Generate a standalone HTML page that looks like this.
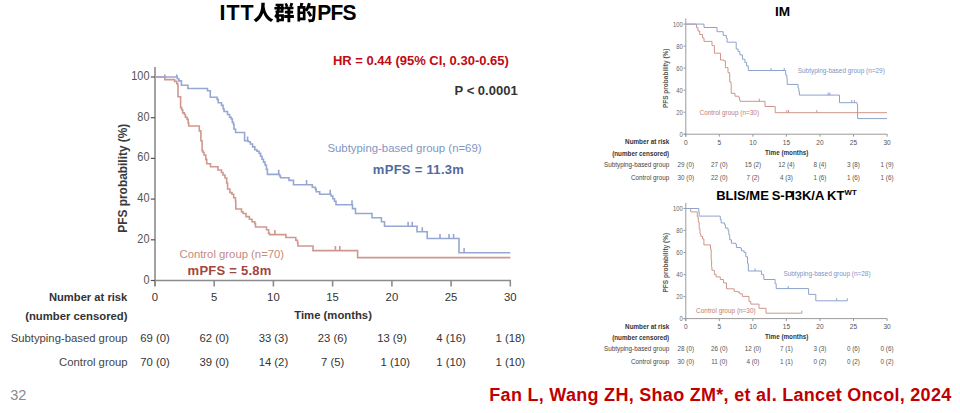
<!DOCTYPE html>
<html><head><meta charset="utf-8"><style>
html,body{margin:0;padding:0;background:#fff;}
body{width:960px;height:413px;overflow:hidden;position:relative;}
svg{position:absolute;left:0;top:0;}
text{font-family:"Liberation Sans",sans-serif;}
.b{font-weight:bold;}
</style></head><body>
<svg width="960" height="413" viewBox="0 0 960 413">

<g fill="#000">
<text transform="translate(0,19.8) scale(1,1.06)" x="219.6" y="0" class="b" font-size="21.4" letter-spacing="1.0">ITT</text>
<path transform="translate(253.10,20.30) scale(0.02050,-0.02050)" d="M401 855C396 675 422 248 20 25C69 -8 116 -55 142 -94C333 24 438 189 495 353C556 190 668 14 878 -87C899 -46 940 4 985 39C639 193 576 546 561 688C566 752 568 809 569 855Z"/>
<path transform="translate(273.90,20.30) scale(0.02050,-0.02050)" d="M806 856C796 803 773 732 754 685L838 664H639L699 686C690 732 664 799 634 849L518 809C542 765 562 708 572 664H523V533H661V467H535V335H661V253H502V117H661V-94H801V117H975V253H801V335H936V467H801V533H956V664H878C899 707 923 765 947 825ZM336 526V484H277L282 526ZM83 811V690H160L158 646H25V526H148L142 484H78V363H113C91 298 60 243 15 200C43 175 92 116 108 88L127 109V-95H258V-50H490V301H234C241 321 247 342 252 363H470V526H512V646H470V811ZM336 646H293L296 690H336ZM258 177H349V74H258Z"/>
<path transform="translate(296.10,20.30) scale(0.02050,-0.02050)" d="M527 397C572 323 632 225 658 164L781 239C751 298 686 393 641 461ZM578 852C552 748 509 640 459 559V692H311C327 734 344 784 361 833L202 855C199 806 190 743 180 692H66V-64H197V7H459V483C489 462 523 438 541 421C570 462 599 513 626 570H816C808 240 796 93 767 62C754 48 743 44 723 44C696 44 636 44 572 50C598 10 618 -52 620 -91C680 -93 742 -94 782 -87C826 -79 857 -67 888 -23C930 32 940 194 952 639C953 656 953 702 953 702H680C694 741 707 780 718 819ZM197 566H328V431H197ZM197 134V306H328V134Z"/>
<text transform="translate(0,19.8) scale(1,1.06)" x="317.2" y="0" class="b" font-size="21" letter-spacing="-0.8">PFS</text>
</g>
<g stroke="#8c8c8c" stroke-width="1.6" fill="none">
<path d="M155 67 V286 M154.2 280.5 H511"/>
<path d="M155.0 280.5 V286.5"/>
<path d="M214.2 280.5 V286.5"/>
<path d="M273.4 280.5 V286.5"/>
<path d="M332.6 280.5 V286.5"/>
<path d="M391.9 280.5 V286.5"/>
<path d="M451.1 280.5 V286.5"/>
<path d="M510.3 280.5 V286.5"/>
</g>
<g stroke="#555" stroke-width="1.2" fill="none">
<path d="M150.8 280.5 H155"/>
<path d="M150.8 239.8 H155"/>
<path d="M150.8 199.1 H155"/>
<path d="M150.8 158.4 H155"/>
<path d="M150.8 117.7 H155"/>
<path d="M150.8 77.0 H155"/>
</g>
<g fill="#555" font-size="12" text-anchor="end">
<text transform="translate(149.5,283.5) scale(0.91,1)">0</text>
<text transform="translate(149.5,242.8) scale(0.91,1)">20</text>
<text transform="translate(149.5,202.1) scale(0.91,1)">40</text>
<text transform="translate(149.5,161.4) scale(0.91,1)">60</text>
<text transform="translate(149.5,120.7) scale(0.91,1)">80</text>
<text transform="translate(149.5,80.0) scale(0.91,1)">100</text>
</g>
<text transform="translate(126.6,178.2) rotate(-90)" text-anchor="middle" class="b" font-size="11.9" fill="#3a3a3a">PFS probability (%)</text>
<g fill="none" stroke-width="1.6">
<path stroke="#cf988f" d="M155.0 77.0 H164.8 V79.6 H174.6 V81.4 H176.8 V83.6 H177.9 V86.3 H178.0 V96.7 H180.6 V107.6 H181.7 V109.8 H182.7 V112.9 H184.4 V114.5 H185.4 V117.3 H187.1 V119.4 H188.2 V122.7 H188.7 V126.0 H199.3 V130.9 H200.7 V132.0 H200.9 V140.7 H202.0 V142.0 H202.1 V150.7 H203.0 V152.5 H204.0 V155.0 H205.8 V159.4 H206.7 V163.8 H210.5 V166.8 H218.0 V170.0 H221.5 V172.5 H223.0 V175.0 H225.0 V178.0 H226.7 V183.0 H227.6 V189.0 H230.0 V192.6 H232.0 V194.3 H233.7 V197.8 H235.5 V201.3 H235.8 V209.0 H241.5 V211.8 H243.0 V213.5 H246.0 V216.6 H249.4 V219.2 H252.0 V221.8 H254.7 V223.6 H255.5 V227.0 H266.5 V229.7 H268.6 V233.2 H269.5 V234.6 H285.9 V237.5 H295.8 V240.2 H297.5 V242.8 H297.9 V246.0 H313.0 V250.6 H357.6 V257.6 H510.3"/>
<path stroke="#cf988f" d="M164.8 77.0 v-2.6M274.9 234.6 v-4.6M335.4 250.6 v-4.6M339.8 250.6 v-4.6"/>
<path stroke="#96a8d2" d="M155.0 77.0 H177.3 V78.7 H178.8 V80.9 H181.4 V85.3 H187.9 V88.5 H207.5 V90.7 H210.3 V97.2 H217.1 V99.4 H218.2 V102.7 H221.5 V105.4 H223.1 V108.7 H224.0 V111.5 H227.5 V114.5 H229.6 V117.3 H231.2 V118.9 H232.3 V122.2 H233.4 V124.3 H234.0 V129.3 H235.6 V132.5 H244.6 V140.7 H248.2 V141.8 H250.4 V144.0 H252.6 V146.9 H254.8 V149.8 H257.0 V151.2 H259.1 V153.4 H260.6 V156.3 H262.0 V159.2 H263.5 V162.1 H265.0 V165.0 H266.4 V169.4 H267.4 V174.4 H279.6 V176.0 H280.5 V177.8 H289.0 V180.4 H293.5 V184.7 H312.3 V187.3 H315.4 V189.1 H316.2 V191.7 H319.7 V194.3 H331.0 V196.0 H332.8 V198.7 H334.5 V201.3 H336.0 V204.8 H352.5 V208.6 H355.5 V213.5 H372.0 V217.7 H381.4 V221.7 H384.5 V226.3 H417.0 V231.8 H427.2 V238.5 H459.0 V252.7 H510.3"/>
<path stroke="#96a8d2" d="M176.8 77.0 v-2.6M247.6 141.0 v-4.6M278.7 174.3 v-4.6M306.6 184.7 v-4.6M330.2 194.3 v-4.6M352.0 204.8 v-4.6M408.1 226.3 v-4.6M412.2 226.3 v-4.6M422.3 231.8 v-4.6M440.0 238.5 v-4.6M449.0 238.5 v-4.6M453.6 238.5 v-4.6M464.1 252.7 v-4.6"/>
</g>
<text x="332.9" y="65.2" class="b" font-size="13" fill="#c00a14">HR = 0.44 (95% CI, 0.30-0.65)</text>
<text x="454.6" y="94.9" class="b" font-size="13" fill="#333">P &lt; 0.0001</text>
<text x="327.4" y="151.8" font-size="11.4" fill="#8196c4">Subtyping-based group (n=69)</text>
<text x="372.8" y="173.6" class="b" font-size="13" letter-spacing="0.3" fill="#52699e">mPFS = 11.3m</text>
<text x="179.5" y="258.3" font-size="11.3" fill="#c58a81">Control group (n=70)</text>
<text x="187.6" y="274.9" class="b" font-size="13" letter-spacing="0.25" fill="#a3463d">mPFS = 5.8m</text>
<g font-size="11.3" fill="#333" text-anchor="middle">
<text x="155.0" y="301">0</text>
<text x="214.2" y="301">5</text>
<text x="273.4" y="301">10</text>
<text x="332.6" y="301">15</text>
<text x="391.9" y="301">20</text>
<text x="451.1" y="301">25</text>
<text x="510.3" y="301">30</text>
<text x="155.0" y="342.2">69 (0)</text>
<text x="214.2" y="342.2">62 (0)</text>
<text x="273.4" y="342.2">33 (3)</text>
<text x="332.6" y="342.2">23 (6)</text>
<text x="391.9" y="342.2">13 (9)</text>
<text x="451.1" y="342.2">4 (16)</text>
<text x="510.3" y="342.2">1 (18)</text>
<text x="155.0" y="365.8">70 (0)</text>
<text x="214.2" y="365.8">39 (0)</text>
<text x="273.4" y="365.8">14 (2)</text>
<text x="332.6" y="365.8">7 (5)</text>
<text x="395.3" y="365.8">1 (10)</text>
<text x="451.1" y="365.8">1 (10)</text>
<text x="510.3" y="365.8">1 (10)</text>
<text x="333.1" y="319.4" class="b">Time (months)</text>
</g>
<g font-size="11.3" fill="#333" text-anchor="end">
<text x="127.3" y="300.9" class="b" font-size="11.2">Number at risk</text>
<text x="127.5" y="319.8" class="b" font-size="11.3">(number censored)</text>
<text x="127.5" y="342.0" fill="#444">Subtyping-based group</text>
<text x="127.5" y="365.5" fill="#444">Control group</text>
</g>
<text x="10.2" y="399.9" font-size="14.6" fill="#8a8a8a">32</text>
<text x="489.3" y="400.8" class="b" font-size="18" letter-spacing="0.29" fill="#c00000">Fan L, Wang ZH, Shao ZM*, et al. Lancet Oncol, 2024</text>
<text x="775.1" y="16.0" class="b" font-size="13.6">IM</text>
<g stroke="#9a9a9a" stroke-width="1" fill="none">
<path d="M685.8 18.5 V136.7 M683.5 134.2 H887.2"/>
<path d="M685.8 134.2 V136.7"/>
<path d="M719.3 134.2 V136.7"/>
<path d="M752.9 134.2 V136.7"/>
<path d="M786.4 134.2 V136.7"/>
<path d="M820.0 134.2 V136.7"/>
<path d="M853.5 134.2 V136.7"/>
<path d="M887.1 134.2 V136.7"/>
<path d="M683.5 134.2 H685.8"/>
<path d="M683.5 112.2 H685.8"/>
<path d="M683.5 90.2 H685.8"/>
<path d="M683.5 68.1 H685.8"/>
<path d="M683.5 46.1 H685.8"/>
<path d="M683.5 24.1 H685.8"/>
</g>
<g font-size="7" fill="#666" text-anchor="end">
<text transform="translate(682.8,136.7) scale(0.84,1)">0</text>
<text transform="translate(682.8,114.7) scale(0.84,1)">20</text>
<text transform="translate(682.8,92.7) scale(0.84,1)">40</text>
<text transform="translate(682.8,70.6) scale(0.84,1)">60</text>
<text transform="translate(682.8,48.6) scale(0.84,1)">80</text>
<text transform="translate(682.8,26.6) scale(0.84,1)">100</text>
</g>
<text transform="translate(667.6,78.3) rotate(-90)" text-anchor="middle" class="b" font-size="6.5" fill="#555">PFS probability (%)</text>
<g fill="none" stroke-width="1">
<path stroke="#cf958c" d="M685.8 24.1 H696.5 V27.5 H698.0 V31.0 H699.7 V34.5 H702.5 V37.9 H704.0 V41.4 H712.0 V45.6 H714.4 V53.2 H720.5 V60.0 H723.7 V60.8 H725.4 V67.6 H728.0 V72.7 H729.7 V81.8 H731.0 V84.3 H731.2 V93.3 H735.0 V96.2 H738.5 V97.0 H739.4 V99.6 H740.0 V101.3 H765.0 V106.5 H775.2 V112.7 H887.0"/>
<path stroke="#cf958c" d="M759.3 101.3 v-2.6M786.8 112.7 v-2.6M788.5 112.7 v-2.6M816.8 112.7 v-2.6"/>
<path stroke="#8fa2cc" d="M685.8 24.1 H704.0 V27.5 H717.0 V31.7 H723.2 V35.4 H726.3 V38.0 H727.1 V42.2 H736.2 V49.0 H738.1 V51.5 H739.8 V54.9 H742.4 V59.2 H744.9 V62.5 H746.6 V65.9 H748.3 V70.5 H785.7 V75.0 H786.8 V78.3 H787.2 V84.4 H798.1 V88.1 H798.8 V91.4 H799.4 V95.1 H839.5 V102.7 H857.0 V104.4 H857.6 V118.6 H887.0"/>
<path stroke="#8fa2cc" d="M771.1 70.5 v-2.6M784.2 70.5 v-2.6M828.2 95.1 v-2.6M829.9 95.1 v-2.6M851.7 102.7 v-2.6M854.3 102.7 v-2.6"/>
</g>
<text x="797.7" y="72.9" font-size="6.45" fill="#7f93c2">Subtyping-based group (n=29)</text>
<text x="699.5" y="115.3" font-size="6.45" fill="#c07c73">Control group (n=30)</text>
<g font-size="6.3" fill="#555" text-anchor="middle">
<text x="685.8" y="144.8" font-size="6.6">0</text>
<text x="719.3" y="144.8" font-size="6.6">5</text>
<text x="752.9" y="144.8" font-size="6.6">10</text>
<text x="786.4" y="144.8" font-size="6.6">15</text>
<text x="820.0" y="144.8" font-size="6.6">20</text>
<text x="853.5" y="144.8" font-size="6.6">25</text>
<text x="887.1" y="144.8" font-size="6.6">30</text>
<text x="685.8" y="166.7">29 (0)</text>
<text x="719.3" y="166.7">27 (0)</text>
<text x="752.9" y="166.7">15 (2)</text>
<text x="786.4" y="166.7">12 (4)</text>
<text x="820.0" y="166.7">8 (4)</text>
<text x="853.5" y="166.7">3 (8)</text>
<text x="887.1" y="166.7">1 (9)</text>
<text x="685.8" y="179.7">30 (0)</text>
<text x="719.3" y="179.7">22 (0)</text>
<text x="752.9" y="179.7">7 (2)</text>
<text x="786.4" y="179.7">4 (3)</text>
<text x="820.0" y="179.7">1 (6)</text>
<text x="853.5" y="179.7">1 (6)</text>
<text x="887.1" y="179.7">1 (6)</text>
<text x="786.7" y="154.7" class="b" fill="#333">Time (months)</text>
</g>
<g font-size="6.3" fill="#444" text-anchor="end">
<text x="669.2" y="144.2" class="b" fill="#333">Number at risk</text>
<text x="669.2" y="155.5" class="b" fill="#333">(number censored)</text>
<text x="669.2" y="166.7">Subtyping-based group</text>
<text x="669.2" y="179.7">Control group</text>
</g>
<text y="199.5" class="b" font-size="13"><tspan x="716.13">BLIS/ME</tspan><tspan x="771.63">S-P</tspan><tspan x="791.13">I3K/A</tspan><tspan x="827.03">KT</tspan></text><text x="844.4" y="195.3" class="b" font-size="7.8" letter-spacing="0.2">WT</text>
<g stroke="#9a9a9a" stroke-width="1" fill="none">
<path d="M685.8 202.9 V321.1 M683.5 318.6 H887.2"/>
<path d="M685.8 318.6 V321.1"/>
<path d="M719.3 318.6 V321.1"/>
<path d="M752.9 318.6 V321.1"/>
<path d="M786.4 318.6 V321.1"/>
<path d="M820.0 318.6 V321.1"/>
<path d="M853.5 318.6 V321.1"/>
<path d="M887.1 318.6 V321.1"/>
<path d="M683.5 318.6 H685.8"/>
<path d="M683.5 296.6 H685.8"/>
<path d="M683.5 274.6 H685.8"/>
<path d="M683.5 252.5 H685.8"/>
<path d="M683.5 230.5 H685.8"/>
<path d="M683.5 208.5 H685.8"/>
</g>
<g font-size="7" fill="#666" text-anchor="end">
<text transform="translate(682.8,321.1) scale(0.84,1)">0</text>
<text transform="translate(682.8,299.1) scale(0.84,1)">20</text>
<text transform="translate(682.8,277.1) scale(0.84,1)">40</text>
<text transform="translate(682.8,255.0) scale(0.84,1)">60</text>
<text transform="translate(682.8,233.0) scale(0.84,1)">80</text>
<text transform="translate(682.8,211.0) scale(0.84,1)">100</text>
</g>
<text transform="translate(667.6,262.7) rotate(-90)" text-anchor="middle" class="b" font-size="6.5" fill="#555">PFS probability (%)</text>
<g fill="none" stroke-width="1">
<path stroke="#cf958c" d="M685.8 208.5 H690.7 V211.9 H697.3 V216.9 H698.3 V222.0 H699.2 V228.8 H700.0 V233.9 H700.8 V236.4 H702.5 V239.0 H703.9 V244.9 H710.5 V249.2 H711.2 V259.3 H711.6 V266.8 H711.9 V270.2 H714.1 V271.0 H714.4 V274.4 H716.1 V276.9 H720.3 V279.5 H723.5 V282.9 H726.5 V288.8 H734.2 V291.4 H738.1 V292.2 H739.8 V293.9 H742.4 V296.4 H749.0 V301.5 H750.8 V304.1 H759.0 V308.3 H766.0 V313.2 H801.8"/>
<path stroke="#cf958c" d="M801.8 313.2 v-2.6"/>
<path stroke="#8fa2cc" d="M685.8 208.5 H698.8 V211.9 H699.2 V216.1 H720.3 V219.5 H721.2 V222.9 H724.6 V224.6 H725.4 V228.0 H728.0 V230.5 H728.8 V234.7 H729.7 V239.8 H731.4 V243.2 H735.6 V244.1 H736.4 V247.5 H740.7 V248.3 H741.5 V250.8 H744.1 V252.5 H745.8 V256.8 H747.5 V263.6 H748.3 V271.0 H761.5 V274.4 H763.6 V276.1 H763.9 V279.5 H775.1 V283.7 H776.2 V288.6 H808.6 V294.4 H815.8 V300.8 H847.3"/>
<path stroke="#8fa2cc" d="M755.1 271.0 v-2.6M788.2 288.6 v-2.6M836.7 300.8 v-2.6M847.3 300.8 v-2.6"/>
</g>
<text x="783.4" y="276.0" font-size="6.45" fill="#7f93c2">Subtyping-based group (n=28)</text>
<text x="696.1" y="312.5" font-size="6.45" fill="#c07c73">Control group (n=30)</text>
<g font-size="6.3" fill="#555" text-anchor="middle">
<text x="685.8" y="329.2" font-size="6.6">0</text>
<text x="719.3" y="329.2" font-size="6.6">5</text>
<text x="752.9" y="329.2" font-size="6.6">10</text>
<text x="786.4" y="329.2" font-size="6.6">15</text>
<text x="820.0" y="329.2" font-size="6.6">20</text>
<text x="853.5" y="329.2" font-size="6.6">25</text>
<text x="887.1" y="329.2" font-size="6.6">30</text>
<text x="685.8" y="351.1">28 (0)</text>
<text x="719.3" y="351.1">26 (0)</text>
<text x="752.9" y="351.1">12 (0)</text>
<text x="786.4" y="351.1">7 (1)</text>
<text x="820.0" y="351.1">3 (3)</text>
<text x="853.5" y="351.1">0 (6)</text>
<text x="887.1" y="351.1">0 (6)</text>
<text x="685.8" y="364.1">30 (0)</text>
<text x="719.3" y="364.1">11 (0)</text>
<text x="752.9" y="364.1">4 (0)</text>
<text x="786.4" y="364.1">1 (1)</text>
<text x="820.0" y="364.1">0 (2)</text>
<text x="853.5" y="364.1">0 (2)</text>
<text x="887.1" y="364.1">0 (2)</text>
<text x="786.7" y="339.1" class="b" fill="#333">Time (months)</text>
</g>
<g font-size="6.3" fill="#444" text-anchor="end">
<text x="669.2" y="328.6" class="b" fill="#333">Number at risk</text>
<text x="669.2" y="339.9" class="b" fill="#333">(number censored)</text>
<text x="669.2" y="351.1">Subtyping-based group</text>
<text x="669.2" y="364.1">Control group</text>
</g>
</svg>
</body></html>
